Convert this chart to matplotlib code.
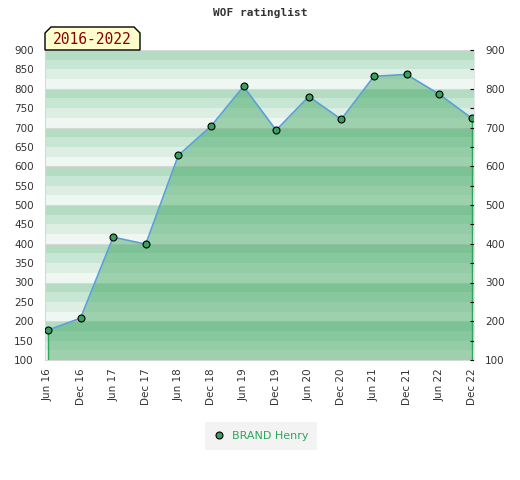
import matplotlib
matplotlib.use('Agg')
import matplotlib.pyplot as plt
from matplotlib.patches import Polygon
from matplotlib.ticker import MultipleLocator

labels = ['Jun 16', 'Dec 16', 'Jun 17', 'Dec 17', 'Jun 18', 'Dec 18', 'Jun 19',
          'Dec 19', 'Jun 20', 'Dec 20', 'Jun 21', 'Dec 21', 'Jun 22', 'Dec 22']
rating = [177, 208, 417, 399, 628, 703, 806, 693, 780, 721, 832, 837, 786, 724]
player = 'BRAND Henry'
period = '2016-2022'
title = 'WOF ratinglist'

W, H = 520, 480
fig = plt.figure(figsize=(W / 100, H / 100), dpi=100)
ax = fig.add_axes([45 / W, 1 - 360 / H, 429 / W, 310 / H])

x = list(range(len(rating)))
ymin, ymax = 100, 900

# striped background, 4 stripes per 100
band_cols = ['#eff7f2', '#ddeee3', '#c8e6d4', '#b3dcc3']
for lo in range(ymin, ymax, 25):
    ax.axhspan(lo, lo + 25, color=band_cols[(lo // 25) % 4], lw=0, zorder=0)
for g in range(ymin, ymax + 1, 100):
    ax.axhline(g, color='#d8d8d8', lw=0.8, zorder=0.5)

ax.fill_between(x, rating, ymin, color='#39a45d', alpha=0.45, lw=0, zorder=1)
ax.vlines([x[0], x[-1]], ymin, [rating[0], rating[-1]], color='#2ea65a', lw=1, zorder=2)
ax.plot(x, rating, color='#5aa0d8', lw=1.2, zorder=3)
ax.plot(x, rating, ls='none', marker='o', ms=5, mfc='#3a9e5c', mec='black',
        mew=0.8, zorder=4, label=player)

ax.set_xlim(-0.09, len(rating) - 1 + 0.07)
ax.set_ylim(ymin, ymax)
ax.set_xticks(x)
ax.set_xticklabels(labels, rotation=90, fontsize=7.5, color='#333333')
ax.yaxis.set_major_locator(MultipleLocator(50))
ax.tick_params(axis='y', length=0, labelsize=7.5, labelcolor='#333333', pad=8)
ax.tick_params(axis='x', length=0, pad=6)
for s in ['top', 'right']:
    ax.spines[s].set_visible(False)
ax.spines['left'].set_color('#d8d8d8')
ax.spines['bottom'].set_color('#d8d8d8')

ax2 = ax.twinx()
ax2.set_ylim(ymin, ymax)
ax2.yaxis.set_major_locator(MultipleLocator(100))
ax2.yaxis.set_minor_locator(MultipleLocator(50))
ax2.tick_params(axis='y', which='both', direction='in', length=3, width=0.8,
                labelsize=7.5, labelcolor='#333333', pad=8)
for s in ['top', 'left', 'bottom']:
    ax2.spines[s].set_visible(False)
ax2.spines['right'].set_color('#e6e6e6')

fig.text(260 / W, 1 - 13 / H, title, ha='center', va='center',
         family='DejaVu Sans Mono', fontsize=8, weight='bold', color='#333333')

pts = [(45, 50), (45, 33), (51, 27), (134, 27), (140, 33), (140, 50)]
box = Polygon([(px / W, 1 - py / H) for px, py in pts], closed=True,
              transform=fig.transFigure, facecolor='#ffffcc', edgecolor='black', lw=1)
fig.patches.append(box)
fig.text(92 / W, 1 - 40 / H, period, ha='center', va='center',
         family='DejaVu Sans Mono', fontsize=10.5, color='#8b0000')

leg = fig.legend(loc='center', bbox_to_anchor=(261 / W, 1 - 436 / H), frameon=True,
                 fontsize=8, handletextpad=0.6, borderpad=0.5, handlelength=1)
leg.get_frame().set_facecolor('#f0f0f0')
leg.get_frame().set_edgecolor('none')
leg.get_frame().set_boxstyle('square')
for t in leg.get_texts():
    t.set_color('#2ea65a')

fig.savefig('out.png', dpi=100)
